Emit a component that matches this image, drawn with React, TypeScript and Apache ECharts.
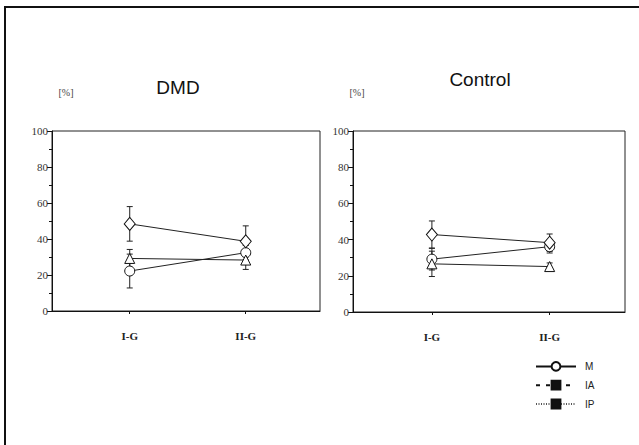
import React, { useEffect, useRef } from "react";
import * as echarts from "echarts";

const categories = ["I-G", "II-G"];
const catPositions = [1, 2];
const seriesNames = ["M", "IA", "IP"];
const seriesSymbols = ["circle", "diamond", "triangle"];
const legendSymbols = ["circle", "rect", "rect"];
const yTicks = [0, 20, 40, 60, 80, 100];

// DMD panel (values in %)
const dmdM = [22.2, 32.4];
const dmdMErr = [9.4, 4];
const dmdIA = [48.4, 38.7];
const dmdIAErr = [9.6, 8.6];
const dmdIP = [29.2, 28.3];
const dmdIPErr = [5, 5.2];

// Control panel
const ctlM = [29.2, 36.1];
const ctlMErr = [6, 3.5];
const ctlIA = [42.8, 38.3];
const ctlIAErr = [7.5, 4.8];
const ctlIP = [26.6, 25.1];
const ctlIPErr = [7, 2];

const panelTitles = ["DMD", "Control"];
const unitLabel = "[%]";

const SERIF = "'Liberation Serif', 'DejaVu Serif', serif";
const SANS = "'Liberation Sans', Arial, sans-serif";

function App() {
  const ref = useRef<HTMLDivElement>(null);
  useEffect(() => {
    if (!ref.current) return;
    const chart = echarts.init(ref.current, null, { renderer: "svg" });

    const grids = [
      { left: 52, top: 131, width: 268, height: 180 },
      { left: 353, top: 131, width: 272, height: 181 },
    ];

    const xAxis = grids.map((_, i) => ({
      type: "value",
      gridIndex: i,
      min: 0.33,
      max: 2.64,
      splitLine: { show: false },
      axisLine: { lineStyle: { color: "#111", width: 1 } },
      axisTick: {
        show: true,
        length: 3,
        inside: false,
        customValues: catPositions,
        lineStyle: { color: "#111" },
      },
      axisLabel: {
        customValues: catPositions,
        formatter: (v: number) => {
          const idx = catPositions.indexOf(Math.round(v));
          return idx >= 0 ? categories[idx] : "";
        },
        margin: 19,
        fontFamily: SERIF,
        fontWeight: "bold",
        fontSize: 11,
        color: "#222",
      },
    }));

    const yAxis = grids.map((_, i) => ({
      type: "value",
      gridIndex: i,
      min: 0,
      max: 100,
      interval: 20,
      splitLine: { show: false },
      axisLine: { show: true, lineStyle: { color: "#111", width: 1 } },
      axisTick: { show: true, length: 5, lineStyle: { color: "#111" } },
      minorTick: { show: true, splitNumber: 2, length: 3, lineStyle: { color: "#111" } },
      axisLabel: {
        margin: 4,
        fontFamily: SERIF,
        fontSize: 11,
        color: "#333",
        customValues: yTicks,
      },
    }));

    const panels = [
      { vals: [dmdM, dmdIA, dmdIP], errs: [dmdMErr, dmdIAErr, dmdIPErr] },
      { vals: [ctlM, ctlIA, ctlIP], errs: [ctlMErr, ctlIAErr, ctlIPErr] },
    ];

    const legendLineTypes: any[] = ["solid", [4, 6], [1, 1.5]];
    const series: any[] = [];

    // legend key entries (no data of their own; they only give the legend its look)
    seriesNames.forEach((name, si) => {
      series.push({
        type: "line",
        name,
        xAxisIndex: 0,
        yAxisIndex: 0,
        data: [],
        symbol: legendSymbols[si],
        lineStyle: { color: si === 2 ? "#555" : "#111", width: si === 0 ? 1.2 : 1.5, type: legendLineTypes[si] },
        itemStyle: si === 0
          ? { color: "#fff", borderColor: "#111", borderWidth: 1.2 }
          : { color: "#111", borderColor: "#111", borderWidth: 1 },
      });
    });

    panels.forEach((p, gi) => {
      const errData: number[][] = [];
      p.vals.forEach((vals, si) => {
        vals.forEach((v, ci) => {
          errData.push([catPositions[ci], v - p.errs[si][ci], v + p.errs[si][ci]]);
        });
      });
      series.push({
        type: "custom",
        xAxisIndex: gi,
        yAxisIndex: gi,
        z: 1,
        silent: true,
        data: errData,
        renderItem: (params: any, api: any) => {
          const x = api.value(0);
          const lo = api.coord([x, api.value(1)]);
          const hi = api.coord([x, api.value(2)]);
          const cap = 3;
          const style = { stroke: "#222", lineWidth: 1 };
          return {
            type: "group",
            children: [
              { type: "line", shape: { x1: lo[0], y1: lo[1], x2: hi[0], y2: hi[1] }, style },
              { type: "line", shape: { x1: lo[0] - cap, y1: lo[1], x2: lo[0] + cap, y2: lo[1] }, style },
              { type: "line", shape: { x1: hi[0] - cap, y1: hi[1], x2: hi[0] + cap, y2: hi[1] }, style },
            ],
          };
        },
      });
      p.vals.forEach((vals, si) => {
        series.push({
          type: "line",
          name: seriesNames[si],
          xAxisIndex: gi,
          yAxisIndex: gi,
          z: 3,
          data: vals.map((v, ci) => [catPositions[ci], v]),
          symbol: seriesSymbols[si],
          symbolSize: si === 1 ? [11, 13] : 10,
          showSymbol: true,
          lineStyle: { color: "#222", width: 1 },
          itemStyle: { color: "#fff", borderColor: "#111", borderWidth: 1 },
        });
      });
    });

    chart.setOption({
      animation: false,
      backgroundColor: "#fff",
      grid: grids.map((g) => ({
        ...g,
        show: true,
        borderColor: "#222",
        borderWidth: 1,
        backgroundColor: "transparent",
        containLabel: false,
      })),
      xAxis,
      yAxis,
      legend: {
        orient: "vertical",
        left: 535,
        top: 361,
        padding: 0,
        itemWidth: 40,
        itemHeight: 11,
        itemGap: 8,
        selectedMode: false,
        textStyle: { fontFamily: SANS, fontSize: 10, color: "#222", padding: [0, 0, 0, 4] },
        data: seriesNames,
      },
      graphic: [
        {
          type: "polyline",
          shape: { points: [[5, 445], [5, 7], [639, 7]] },
          style: { stroke: "#111", lineWidth: 2, fill: "none" },
          silent: true,
        },
        {
          type: "text",
          x: 178,
          y: 87,
          style: {
            text: panelTitles[0],
            font: `19px ${SANS}`,
            fill: "#111",
            align: "center",
            verticalAlign: "middle",
          },
        },
        {
          type: "text",
          x: 480,
          y: 79,
          style: {
            text: panelTitles[1],
            font: `19px ${SANS}`,
            fill: "#111",
            align: "center",
            verticalAlign: "middle",
          },
        },
        {
          type: "text",
          x: 66,
          y: 92,
          style: {
            text: unitLabel,
            font: `10px ${SERIF}`,
            fill: "#444",
            align: "center",
            verticalAlign: "middle",
          },
        },
        {
          type: "text",
          x: 357,
          y: 92,
          style: {
            text: unitLabel,
            font: `10px ${SERIF}`,
            fill: "#444",
            align: "center",
            verticalAlign: "middle",
          },
        },
      ],
      series,
    });

    return () => chart.dispose();
  }, []);

  return (
    <div
      ref={ref}
      style={{ position: "fixed", left: 0, top: 0, width: 639, height: 445, background: "#fff" }}
    />
  );
}

export default App;
